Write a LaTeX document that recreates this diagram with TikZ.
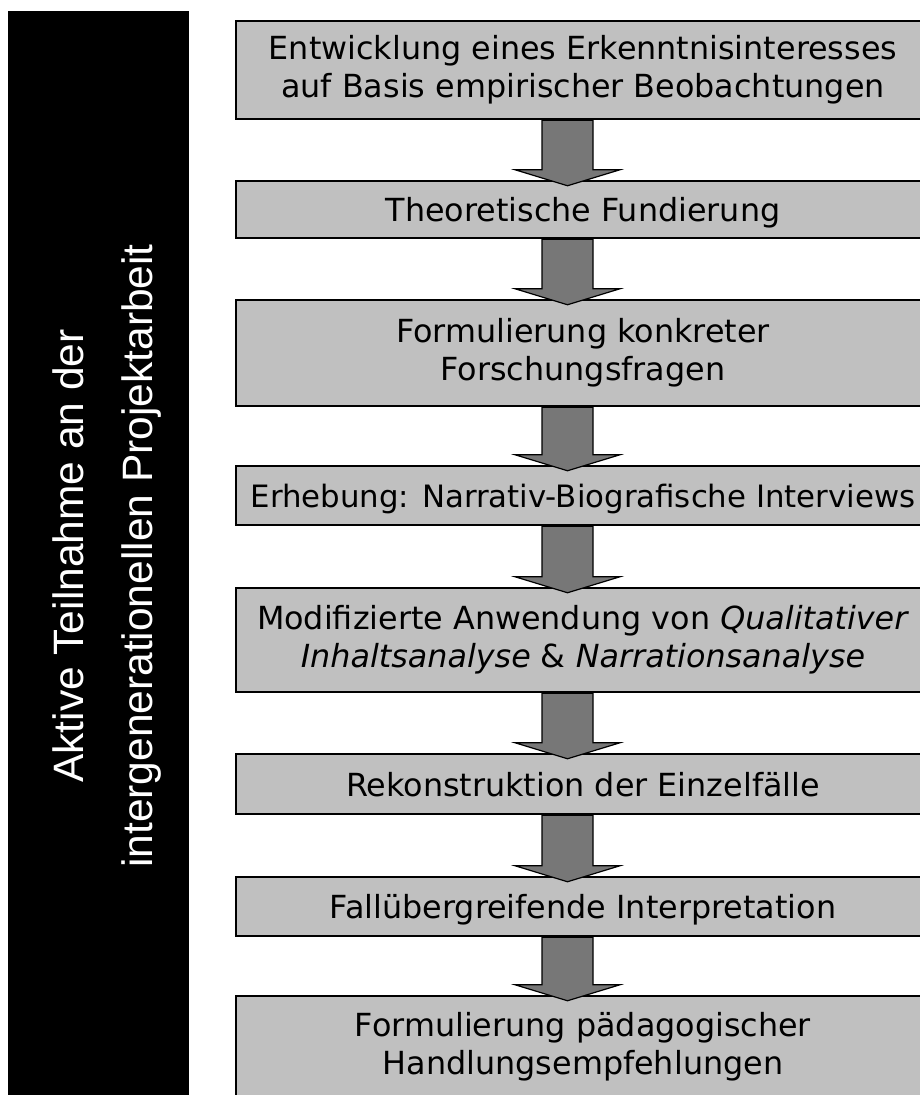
\documentclass[tikz,border=0pt]{standalone}
\usepackage{fontspec}
\setmainfont{DejaVu Sans}
\newfontfamily\sidefont{Liberation Sans}
\usetikzlibrary{calc}

\definecolor{boxgray}{HTML}{C0C0C0}
\definecolor{arrowgray}{HTML}{777777}

\tikzset{
    stepbox/.style={draw=black, line width=2.5pt, fill=boxgray, minimum width=694pt,
        align=center, inner sep=0pt, font=\fontsize{31.8}{38}\selectfont},
    oneline/.style={stepbox, text depth=0pt},
    blockarrow/.style={draw=black, line width=1.2pt, fill=arrowgray, line join=miter},
    sidetext/.style={rotate=90, anchor=base, text=white, font=\sidefont\fontsize{42.5}{50}\selectfont}
}

% block arrow from the bottom of one box to the top of the next
\newcommand{\blockarrow}[2]{
    \filldraw[blockarrow] let \p1=(#1.south), \p2=(#2.north) in
        ({\x1-41pt},\y1) -- ({\x1-41pt},{\y2+10pt}) -- ({\x1-68pt},{\y2+10pt})
        -- ({\x1-15.5pt},{\y2-6pt})
        -- ({\x1+37pt},{\y2+10pt}) -- ({\x1+10pt},{\y2+10pt}) -- ({\x1+10pt},\y1) -- cycle;
}

\begin{document}
\begin{tikzpicture}[x=1pt,y=-1pt]
    \useasboundingbox (0,0) rectangle (920,1095);
    \clip (0,0) rectangle (920,1095);

    % Side bar
    \node[fill=black, minimum width=181pt, minimum height=1100pt, inner sep=0pt] (bar) at (98.5,561) {};
    \node[sidetext] (side1) at (83,556) {Aktive Teilnahme an der};
    \node[sidetext] (side2) at (152,556) {intergenerationellen Projektarbeit};

    % Steps
    \node[stepbox, minimum height=98pt] (s1) at (583,70) {Entwicklung eines Erkenntnisinteresses\\auf Basis empirischer Beobachtungen};
    \node[oneline, minimum height=57pt] (s2) at (583,209.5) {Theoretische Fundierung};
    \node[stepbox, minimum height=106pt] (s3) at (583,353) {Formulierung konkreter\\Forschungsfragen};
    \node[oneline, minimum height=59pt, font=\fontsize{30.8}{38}\selectfont] (s4) at (583,495.5) {Erhebung: Narrativ-Biografische Interviews};
    \node[stepbox, minimum height=104pt] (s5) at (583,640) {Modifizierte Anwendung von \textit{Qualitativer}\\\textit{Inhaltsanalyse} \& \textit{Narrationsanalyse}};
    \node[oneline, minimum height=60pt] (s6) at (583,784) {Rekonstruktion der Einzelfälle};
    \node[oneline, minimum height=59pt] (s7) at (583,906.5) {Fallübergreifende Interpretation};
    \node[stepbox, minimum height=101pt] (s8) at (583,1046.5) {Formulierung pädagogischer\\Handlungsempfehlungen};

    % Arrows
    \blockarrow{s1}{s2}
    \blockarrow{s2}{s3}
    \blockarrow{s3}{s4}
    \blockarrow{s4}{s5}
    \blockarrow{s5}{s6}
    \blockarrow{s6}{s7}
    \blockarrow{s7}{s8}
\end{tikzpicture}
\end{document}
